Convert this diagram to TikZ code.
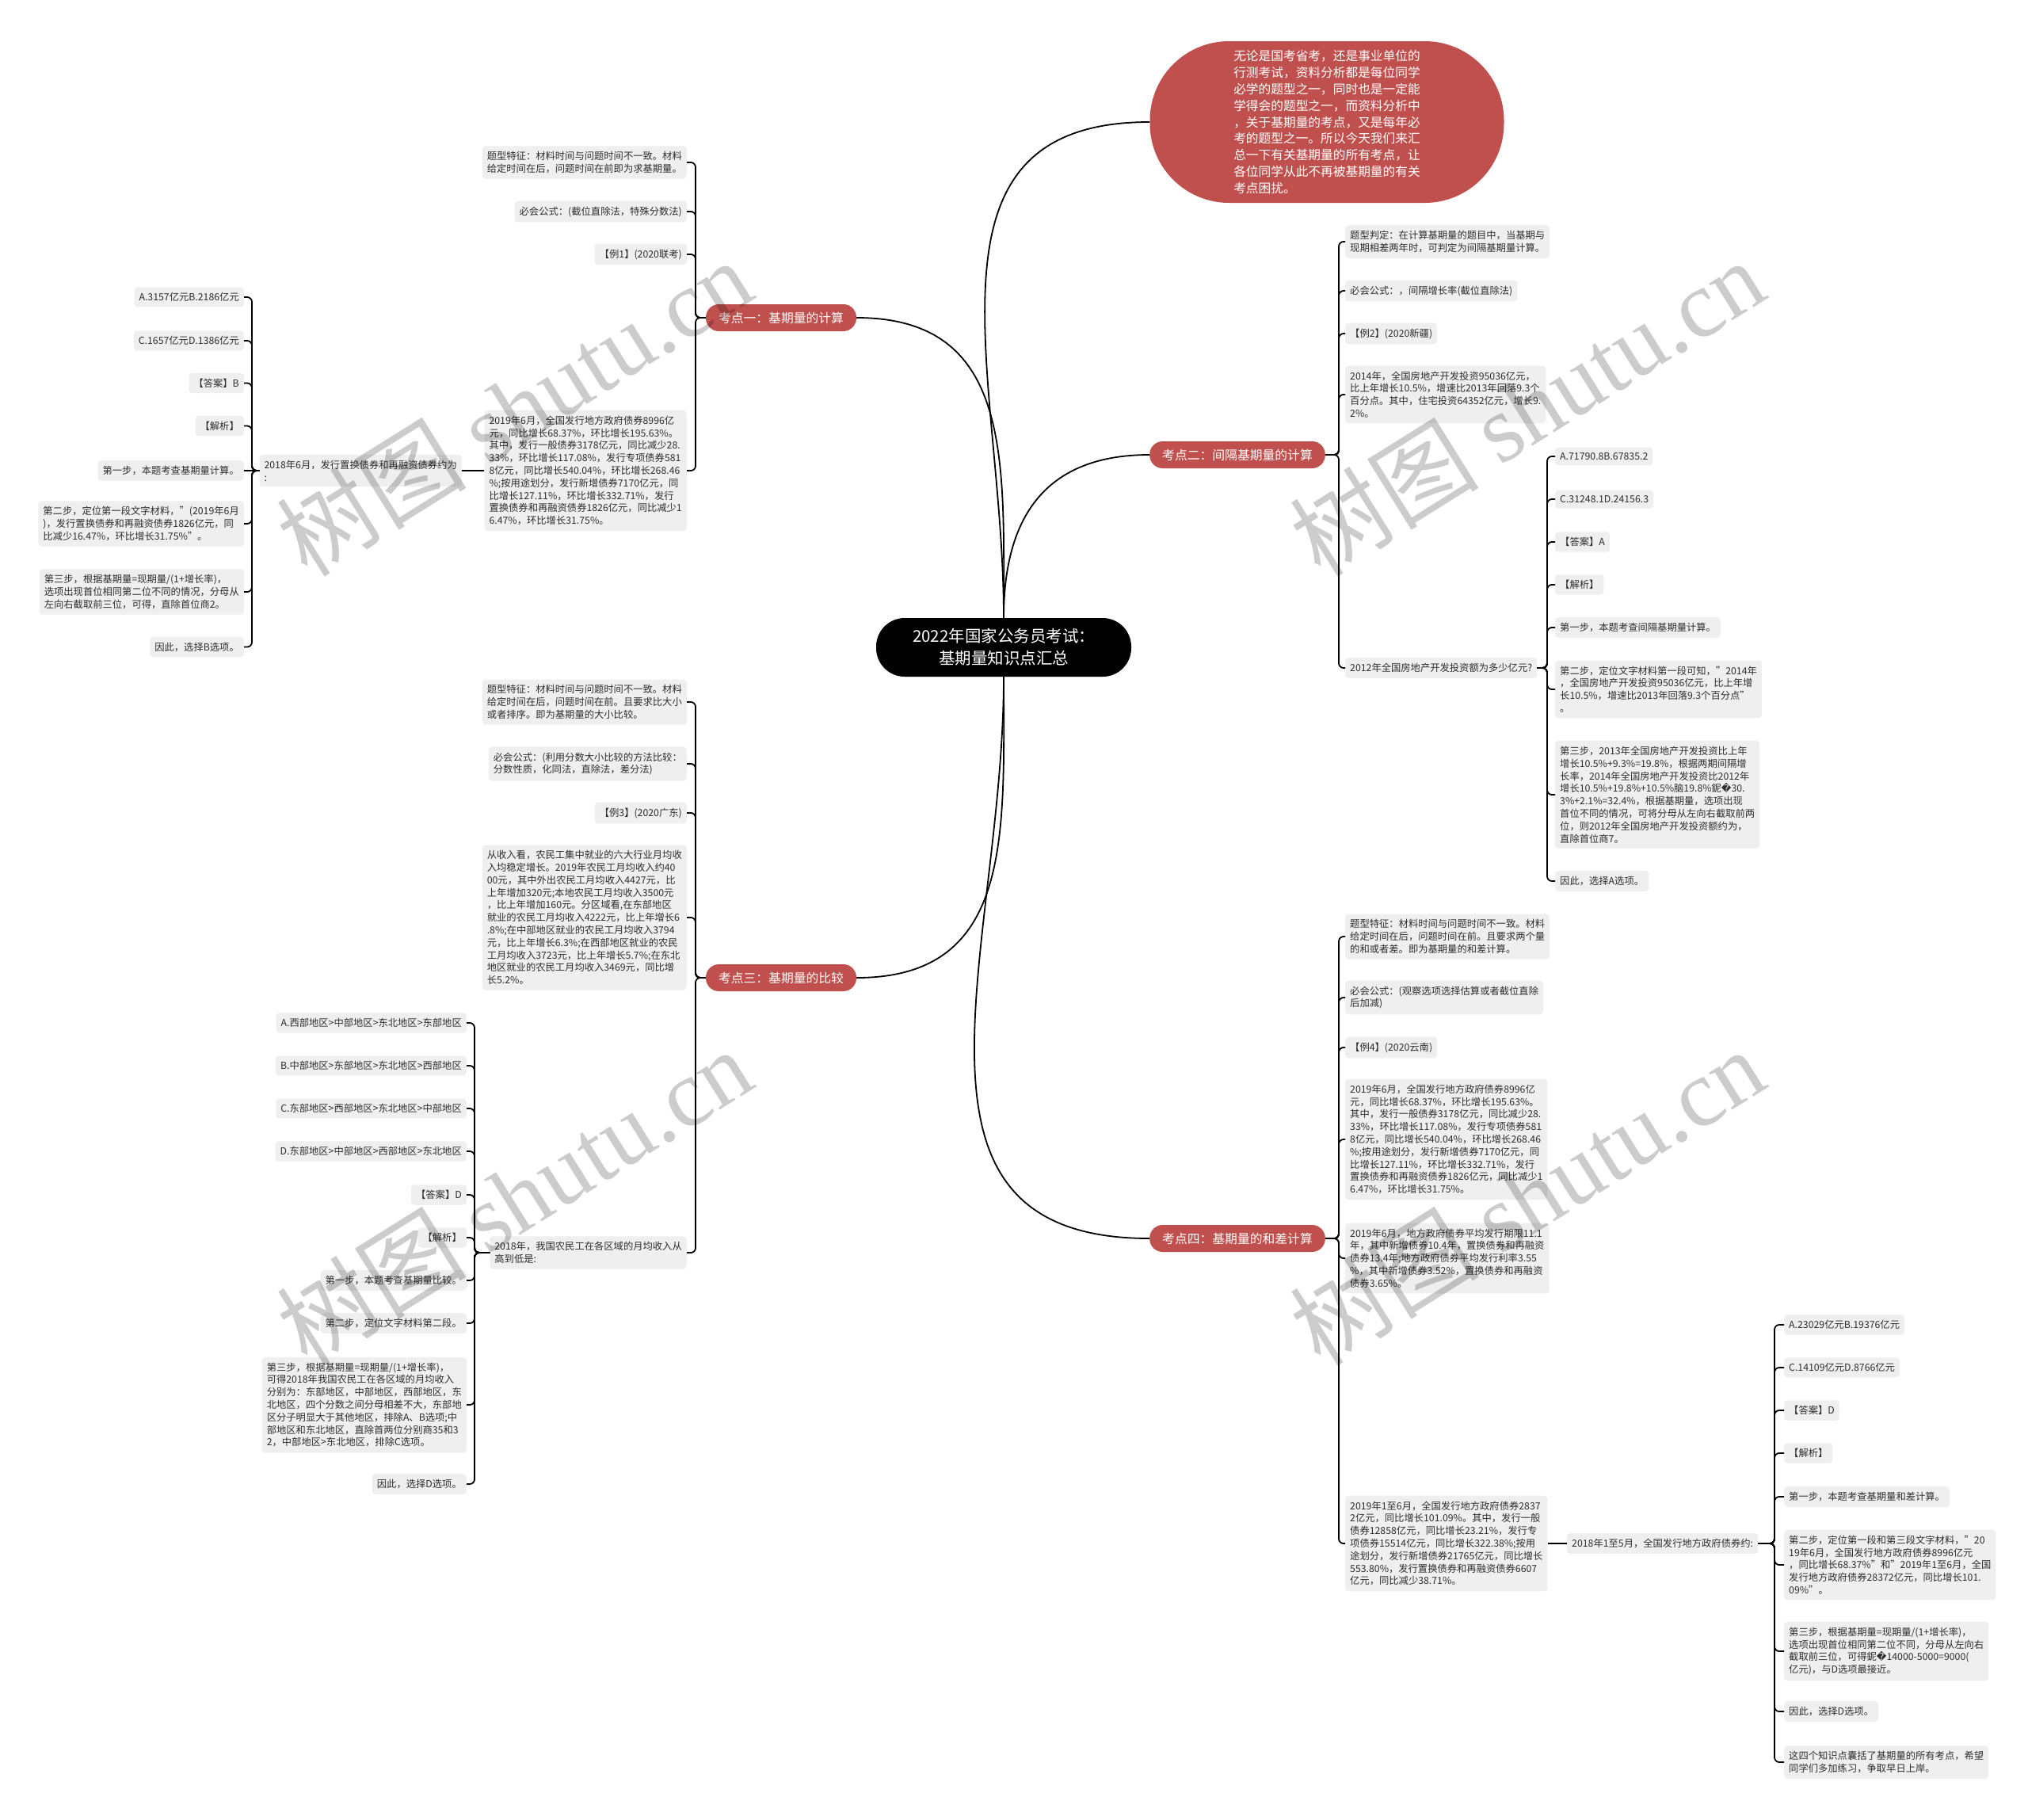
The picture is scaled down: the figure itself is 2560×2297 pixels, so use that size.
\documentclass[tikz,border=0pt]{standalone}
\usepackage{fontspec}
\setmainfont{Noto Sans CJK SC}
\newfontfamily\dejavu{DejaVu Sans}
\newfontfamily\wmserif{Liberation Serif}
\definecolor{redc}{RGB}{192,80,77}
\definecolor{leafgray}{RGB}{239,239,239}
\definecolor{leaftext}{RGB}{45,45,45}
\newcommand{\leaffont}{\fontsize{12.3}{15.8}\selectfont}
\newcommand{\branchfont}{\fontsize{15.8}{19}\selectfont}
\newcommand{\topfont}{\fontsize{15.7}{20.8}\selectfont}
\newcommand{\centerfont}{\fontsize{20.5}{27.8}\selectfont}
\newcommand{\wmfont}{\fontsize{120}{120}\selectfont}
\newcommand{\bondtext}{2019年6月，全国发行地方政府债券8996亿\\元，同比增长68.37\%，环比增长195.63\%。\\其中，发行一般债券3178亿元，同比减少28.\\33\%，环比增长117.08\%，发行专项债券581\\8亿元，同比增长540.04\%，环比增长268.46\\\%;按用途划分，发行新增债券7170亿元，同\\比增长127.11\%，环比增长332.71\%，发行\\置换债券和再融资债券1826亿元，同比减少1\\6.47\%，环比增长31.75\%。}
\tikzset{
  conn/.style={line width=1.8pt, black, rounded corners=6pt},
  curvecon/.style={line width=1.8pt, black},
  leaf/.style={fill=leafgray, rounded corners=4pt, inner xsep=6pt, inner ysep=7pt, align=left, text=leaftext, font=\leaffont},
  leafL/.style={leaf, anchor=east},
  leafR/.style={leaf, anchor=west},
  branch/.style={fill=redc, text=white, rounded corners=16.5pt, minimum height=34pt, inner xsep=16pt, inner ysep=0pt, font=\branchfont},
  topbox/.style={fill=redc, text=white, rounded corners=100pt, minimum width=447pt, minimum height=204pt, align=left, font=\topfont},
  centerbox/.style={fill=black, text=white, rounded corners=36pt, minimum width=322pt, minimum height=74pt, inner sep=0pt, align=center, font=\centerfont},
  wm/.style={text=black, text opacity=0.2, font=\wmfont, inner sep=0pt}
}
\begin{document}
\begin{tikzpicture}[x=1pt,y=-1pt]
\fill[white] (0,0) rectangle (2560,2297);
\useasboundingbox (0,0) rectangle (2560,2297);

% centre and top
\node[centerbox] (c) at (1267,817) {2022年国家公务员考试：\\基期量知识点汇总};
\node[topbox] (top) at (1675,154) {无论是国考省考，还是事业单位的\\行测考试，资料分析都是每位同学\\必学的题型之一，同时也是一定能\\学得会的题型之一，而资料分析中\\，关于基期量的考点，又是每年必\\考的题型之一。所以今天我们来汇\\总一下有关基期量的所有考点，让\\各位同学从此不再被基期量的有关\\考点困扰。};

% branches
\node[branch] (b1) at (986,401) {考点一：基期量的计算};
\node[branch] (b2) at (1562,574) {考点二：间隔基期量的计算};
\node[branch] (b3) at (986,1234) {考点三：基期量的比较};
\node[branch] (b4) at (1562,1563) {考点四：基期量的和差计算};

% branch 1
\node[leafL] (b1a) at (867,205) {题型特征：材料时间与问题时间不一致。材料\\给定时间在后，问题时间在前即为求基期量。};
\node[leafL] (b1b) at (867,267) {必会公式：(截位直除法，特殊分数法)};
\node[leafL] (b1c) at (867,321) {【例1】(2020联考)};
\node[leafL] (b1d) at (867,594) {\bondtext};
\node[leafL] (q1) at (583,594) {2018年6月，发行置换债券和再融资债券约为\\:};
\node[leafL] (q1a) at (308,375) {A.3157亿元B.2186亿元};
\node[leafL] (q1b) at (308,430) {C.1657亿元D.1386亿元};
\node[leafL] (q1c) at (308,483.5) {【答案】B};
\node[leafL] (q1d) at (308,537.5) {【解析】};
\node[leafL] (q1e) at (308,594) {第一步，本题考查基期量计算。};
\node[leafL] (q1f) at (308,661) {第二步，定位第一段文字材料，"(2019年6月\\)，发行置换债券和再融资债券1826亿元，同\\比减少16.47\%，环比增长31.75\%"。};
\node[leafL] (q1g) at (308,747) {第三步，根据基期量=现期量/(1+增长率)，\\选项出现首位相同第二位不同的情况，分母从\\左向右截取前三位，可得，直除首位商2。};
\node[leafL] (q1h) at (308,816.5) {因此，选择B选项。};

% branch 3
\node[leafL] (b3a) at (867,886) {题型特征：材料时间与问题时间不一致。材料\\给定时间在后，问题时间在前。且要求比大小\\或者排序。即为基期量的大小比较。};
\node[leafL] (b3b) at (867,964) {必会公式：(利用分数大小比较的方法比较：\\分数性质，化同法，直除法，差分法)};
\node[leafL] (b3c) at (867,1026) {【例3】(2020广东)};
\node[leafL] (b3d) at (867,1158) {从收入看，农民工集中就业的六大行业月均收\\入均稳定增长。2019年农民工月均收入约40\\00元，其中外出农民工月均收入4427元，比\\上年增加320元;本地农民工月均收入3500元\\，比上年增加160元。分区域看,在东部地区\\就业的农民工月均收入4222元，比上年增长6\\.8\%;在中部地区就业的农民工月均收入3794\\元，比上年增长6.3\%;在西部地区就业的农民\\工月均收入3723元，比上年增长5.7\%;在东北\\地区就业的农民工月均收入3469元，同比增\\长5.2\%。};
\node[leafL] (q3) at (867,1581) {2018年，我国农民工在各区域的月均收入从\\高到低是:};
\node[leafL] (q3a) at (589,1291) {A.西部地区>中部地区>东北地区>东部地区};
\node[leafL] (q3b) at (589,1345) {B.中部地区>东部地区>东北地区>西部地区};
\node[leafL] (q3c) at (589,1399) {C.东部地区>西部地区>东北地区>中部地区};
\node[leafL] (q3d) at (589,1453) {D.东部地区>中部地区>西部地区>东北地区};
\node[leafL] (q3e) at (589,1508) {【答案】D};
\node[leafL] (q3f) at (589,1562) {【解析】};
\node[leafL] (q3g) at (589,1616) {第一步，本题考查基期量比较。};
\node[leafL] (q3h) at (589,1670) {第二步，定位文字材料第二段。};
\node[leafL] (q3i) at (589,1773) {第三步，根据基期量=现期量/(1+增长率)，\\可得2018年我国农民工在各区域的月均收入\\分别为：东部地区，中部地区，西部地区，东\\北地区，四个分数之间分母相差不大，东部地\\区分子明显大于其他地区，排除A、B选项;中\\部地区和东北地区，直除首两位分别商35和3\\2，中部地区>东北地区，排除C选项。};
\node[leafL] (q3j) at (589,1873) {因此，选择D选项。};

% branch 2
\node[leafR] (b2a) at (1698,305) {题型判定：在计算基期量的题目中，当基期与\\现期相差两年时，可判定为间隔基期量计算。};
\node[leafR] (b2b) at (1698,367) {必会公式：，间隔增长率(截位直除法)};
\node[leafR] (b2c) at (1698,421) {【例2】(2020新疆)};
\node[leafR] (b2d) at (1698,498) {2014年，全国房地产开发投资95036亿元，\\比上年增长10.5\%，增速比2013年回落9.3个\\百分点。其中，住宅投资64352亿元，增长9.\\2\%。};
\node[leafR] (q2) at (1698,843) {2012年全国房地产开发投资额为多少亿元?};
\node[leafR] (q2a) at (1963,576) {A.71790.8B.67835.2};
\node[leafR] (q2b) at (1963,630) {C.31248.1D.24156.3};
\node[leafR] (q2c) at (1963,684) {【答案】A};
\node[leafR] (q2d) at (1963,738) {【解析】};
\node[leafR] (q2e) at (1963,792) {第一步，本题考查间隔基期量计算。};
\node[leafR] (q2f) at (1963,870) {第二步，定位文字材料第一段可知，"2014年\\，全国房地产开发投资95036亿元，比上年增\\长10.5\%，增速比2013年回落9.3个百分点"\\。};
\node[leafR] (q2g) at (1963,1003) {第三步，2013年全国房地产开发投资比上年\\增长10.5\%+9.3\%=19.8\%，根据两期间隔增\\长率，2014年全国房地产开发投资比2012年\\增长10.5\%+19.8\%+10.5\%脑19.8\%鈮{\dejavu �}30.\\3\%+2.1\%=32.4\%，根据基期量，选项出现\\首位不同的情况，可将分母从左向右截取前两\\位，则2012年全国房地产开发投资额约为，\\直除首位商7。};
\node[leafR] (q2h) at (1963,1112) {因此，选择A选项。};

% branch 4
\node[leafR] (b4a) at (1698,1182) {题型特征：材料时间与问题时间不一致。材料\\给定时间在后，问题时间在前。且要求两个量\\的和或者差。即为基期量的和差计算。};
\node[leafR] (b4b) at (1698,1259) {必会公式：(观察选项选择估算或者截位直除\\后加减)};
\node[leafR] (b4c) at (1698,1322) {【例4】(2020云南)};
\node[leafR] (b4d) at (1698,1438) {\bondtext};
\node[leafR] (b4e) at (1698,1588) {2019年6月，地方政府债券平均发行期限11.1\\年，其中新增债券10.4年，置换债券和再融资\\债券13.4年;地方政府债券平均发行利率3.55\\\%，其中新增债券3.52\%，置换债券和再融资\\债券3.65\%。};
\node[leafR] (b4f) at (1698,1948) {2019年1至6月，全国发行地方政府债券2837\\2亿元，同比增长101.09\%。其中，发行一般\\债券12858亿元，同比增长23.21\%，发行专\\项债券15514亿元，同比增长322.38\%;按用\\途划分，发行新增债券21765亿元，同比增长\\553.80\%，发行置换债券和再融资债券6607\\亿元，同比减少38.71\%。};
\node[leafR] (q4) at (1978,1948) {2018年1至5月，全国发行地方政府债券约:};
\node[leafR] (q4a) at (2252,1672) {A.23029亿元B.19376亿元};
\node[leafR] (q4b) at (2252,1726) {C.14109亿元D.8766亿元};
\node[leafR] (q4c) at (2252,1780) {【答案】D};
\node[leafR] (q4d) at (2252,1834) {【解析】};
\node[leafR] (q4e) at (2252,1889) {第一步，本题考查基期量和差计算。};
\node[leafR] (q4f) at (2252,1975) {第二步，定位第一段和第三段文字材料，"20\\19年6月，全国发行地方政府债券8996亿元\\，同比增长68.37\%"和"2019年1至6月，全国\\发行地方政府债券28372亿元，同比增长101.\\09\%"。};
\node[leafR] (q4g) at (2252,2084) {第三步，根据基期量=现期量/(1+增长率)，\\选项出现首位相同第二位不同，分母从左向右\\截取前三位，可得鈮{\dejavu �}14000-5000=9000(\\亿元)，与D选项最接近。};
\node[leafR] (q4h) at (2252,2160) {因此，选择D选项。};
\node[leafR] (q4i) at (2252,2224) {这四个知识点囊括了基期量的所有考点，希望\\同学们多加练习，争取早日上岸。};

% spine coordinates
\coordinate (s1) at (878,401);
\coordinate (s1q) at (318,594);
\coordinate (s3) at (878,1234);
\coordinate (s3q) at (599,1581);
\coordinate (s2) at (1690,574);
\coordinate (s2q) at (1953,843);
\coordinate (s4) at (1690,1563);
\coordinate (s4q) at (2240,1948);

% centre curves
\draw[curvecon] (c.north) to[out=90,in=0,looseness=1.2] (b1.east);
\draw[curvecon] (c.north) to[out=90,in=180,looseness=1.2] (top.west);
\draw[curvecon] (c.north) to[out=90,in=180,looseness=1.2] (b2.west);
\draw[curvecon] (c.south) to[out=-90,in=0,looseness=1.2] (b3.east);
\draw[curvecon] (c.south) to[out=-90,in=180,looseness=1.2] (b4.west);

% brackets
\foreach \n in {b1a,b1b,b1c,b1d} \draw[conn] (b1.west) -- (s1) |- (\n.east);
\draw[conn] (b1d.west) -- (q1.east);
\foreach \n in {q1a,q1b,q1c,q1d,q1f,q1g,q1h} \draw[conn] (q1.west) -- (s1q) |- (\n.east);
\draw[conn] (q1.west) -- (q1e.east);

\foreach \n in {b3a,b3b,b3c,b3d,q3} \draw[conn] (b3.west) -- (s3) |- (\n.east);
\foreach \n in {q3a,q3b,q3c,q3d,q3e,q3f,q3g,q3h,q3i,q3j} \draw[conn] (q3.west) -- (s3q) |- (\n.east);

\foreach \n in {b2a,b2b,b2c,b2d,q2} \draw[conn] (b2.east) -- (s2) |- (\n.west);
\foreach \n in {q2a,q2b,q2c,q2d,q2e,q2f,q2g,q2h} \draw[conn] (q2.east) -- (s2q) |- (\n.west);

\foreach \n in {b4a,b4b,b4c,b4d,b4e,b4f} \draw[conn] (b4.east) -- (s4) |- (\n.west);
\draw[conn] (b4f.east) -- (q4.west);
\foreach \n in {q4a,q4b,q4c,q4d,q4e,q4f,q4g,q4h,q4i} \draw[conn] (q4.east) -- (s4q) |- (\n.west);

% watermarks
\node[wm, rotate=32] (wm1) at (649,514) {树图 {\wmserif shutu.cn}};
\node[wm, rotate=32] (wm2) at (1927,514) {树图 {\wmserif shutu.cn}};
\node[wm, rotate=32] (wm3) at (649,1510) {树图 {\wmserif shutu.cn}};
\node[wm, rotate=32] (wm4) at (1927,1510) {树图 {\wmserif shutu.cn}};
\end{tikzpicture}
\end{document}
